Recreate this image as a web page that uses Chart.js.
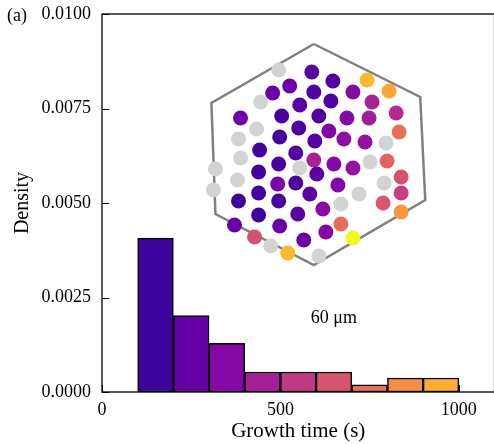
<!DOCTYPE html>
<html>
<head>
<meta charset="utf-8">
<script src="https://cdn.jsdelivr.net/npm/chart.js@4/dist/chart.umd.min.js"></script>
<style>
  html, body { margin: 0; padding: 0; background: #fff; overflow: hidden; }
  #wrap { width: 502px; height: 444px; position: relative; }
  canvas { display: block; }
</style>
</head>
<body>
<div id="wrap"><canvas id="growthChart"></canvas></div>
<script>
// histogram of growth times (bin edges in s, density)
const binLeft = [100, 200, 300, 400, 500, 600, 700, 800, 900];
const binWidth = 100;
const density = [0.00407, 0.00202, 0.00129, 0.00053, 0.00053, 0.00053, 0.00019, 0.00037, 0.00037];
const xTicks = [0, 500, 1000];
const yTicks = [0, 0.0025, 0.005, 0.0075, 0.01];

// inset: cell positions (relative to hexagon centre) and their growth time, null = did not grow
const cellX = [-38, -5, 16, 50, -27, -44, -3, 36, 72, -56, -17, 14, 55, -76, -35, 2, 30, 52, 79, -60,
  -18, 12, -78, -37, 27, 82, -2, 48, 69, -57, -21, -76, -3, -38, 17, 36, 53, 70, -101, -17,
  -58, 0, -79, -39, -21, 21, 67, 84, -103, -58, -7, 42, 84, -78, -38, 24, 66, -58, 6, -19,
  84, -82, -37, 24, -62, 9, -46, -13, 36, -29, 2];
const cellY = [85, 83, 74, 75, 69, 62, 63, 63, 64, 53, 50, 54, 53, 37, 39, 39, 37, 37, 42, 26,
  27, 24, 16, 18, 16, 23, 14, 13, 12, 5, 2, -3, -5, -9, -9, -13, -7, -6, -14, -13,
  -17, -19, -25, -29, -28, -30, -28, -22, -35, -38, -39, -39, -38, -46, -46, -49, -48, -60, -54, -59,
  -57, -70, -71, -69, -82, -77, -91, -85, -83, -98, -101];
const cellTime = [null, 175, 150, 930, 220, 220, 145, 300, 880, null, 175, 145, 410, 240, 130, 145, 300, 385, 440, null,
  145, 290, null, 130, 330, 700, 160, 345, null, 110, 160, null, 410, 130, 300, 350, null, 660, null, null,
  110, 180, null, 260, 145, 290, null, 590, null, 110, 180, null, 520, 100, 130, null, 610, 110, 310, 160,
  830, 205, 220, 690, 590, 300, null, 220, 1100, 930, null];
const hexX = [-3, 103, 108, -3, -101, -105, -3];
const hexY = [111, 58, -45, -110, -59, 52, 111];

const colorMax = 1100;
const plasma = ['#0d0887', '#41049d', '#6a00a8', '#8f0da4', '#b12a90', '#cc4778',
                '#e16462', '#f2844b', '#fca636', '#fcce25', '#f0f921'];

function plasmaColor(v) {
  v = Math.max(0, Math.min(1, v));
  const p = v * (plasma.length - 1);
  const i = Math.min(Math.floor(p), plasma.length - 2);
  const f = p - i;
  const a = plasma[i], b = plasma[i + 1];
  const c = [1, 3, 5].map(k => {
    const ca = parseInt(a.substr(k, 2), 16), cb = parseInt(b.substr(k, 2), 16);
    return Math.round(ca + (cb - ca) * f);
  });
  return 'rgb(' + c.join(',') + ')';
}

const serif = "'Liberation Serif', 'DejaVu Serif', serif";

const noPad = s => { s.paddingLeft = 0; s.paddingRight = 0; s.paddingTop = 0; s.paddingBottom = 0; };

const extras = {
  id: 'extras',
  afterDatasetsDraw(chart) {
    const {ctx, chartArea: a, scales} = chart;
    ctx.save();
    ctx.strokeStyle = '#000';
    ctx.lineWidth = 1.3;
    ctx.strokeRect(a.left, a.top, a.right - a.left, a.bottom - a.top);
    ctx.lineWidth = 1;
    ctx.beginPath();
    yTicks.forEach(v => {
      const y = Math.round(scales.y.getPixelForValue(v)) + 0.5;
      ctx.moveTo(a.left, y); ctx.lineTo(a.left + 7, y);
    });
    xTicks.forEach(v => {
      const x = Math.round(scales.x.getPixelForValue(v)) + 0.5;
      ctx.moveTo(x, a.bottom); ctx.lineTo(x, a.bottom - 7);
    });
    ctx.stroke();

    ctx.fillStyle = '#000';
    ctx.font = '18px ' + serif;
    ctx.textAlign = 'left';
    ctx.textBaseline = 'middle';
    ctx.fillText('(a)', 7, 16);

    ctx.textAlign = 'center';
    ctx.fillText('60 μm', scales.ix.getPixelForValue(17), scales.iy.getPixelForValue(-163));
    ctx.restore();
  }
};

const ctx = document.getElementById('growthChart').getContext('2d');
new Chart(ctx, {
  type: 'bar',
  data: {
    datasets: [
      {
        type: 'scatter',
        data: cellX.map((x, i) => ({x: x, y: cellY[i]})),
        xAxisID: 'ix',
        yAxisID: 'iy',
        pointRadius: 7.5,
        borderWidth: 0,
        backgroundColor: c => cellTime[c.dataIndex] == null ? '#d3d3d3' : plasmaColor(cellTime[c.dataIndex] / colorMax),
        order: 0
      },
      {
        type: 'scatter',
        data: hexX.map((x, i) => ({x: x, y: hexY[i]})),
        xAxisID: 'ix',
        yAxisID: 'iy',
        showLine: true,
        tension: 0,
        pointRadius: 0,
        borderColor: '#808080',
        borderWidth: 2.5,
        order: 1
      },
      {
        type: 'bar',
        data: binLeft.map((l, i) => ({x: l + binWidth / 2, y: density[i]})),
        xAxisID: 'x',
        yAxisID: 'y',
        backgroundColor: binLeft.map(l => plasmaColor(l / colorMax)),
        borderColor: '#000',
        borderWidth: 1.5,
        borderSkipped: false,
        grouped: false,
        barPercentage: 1,
        categoryPercentage: 1,
        order: 2
      }
    ]
  },
  options: {
    responsive: true,
    maintainAspectRatio: false,
    animation: false,
    layout: { padding: { top: 14, right: 0, left: 0, bottom: 0 } },
    plugins: { legend: { display: false }, tooltip: { enabled: false } },
    scales: {
      x: {
        type: 'linear',
        min: 0,
        max: 1100,
        offset: false,
        grid: { display: false, drawTicks: false },
        border: { display: false },
        ticks: { color: '#000', padding: 7, maxRotation: 0, autoSkip: false,
                 font: { family: serif, size: 18 },
                 callback: v => String(v) },
        afterBuildTicks: s => { s.ticks = xTicks.map(v => ({value: v})); },
        title: { display: true, text: 'Growth time (s)', color: '#000', padding: { top: 0, bottom: 0 },
                 font: { family: serif, size: 21 } },
        afterFit: s => { s.height = 52; noPad(s); }
      },
      y: {
        min: 0,
        max: 0.01,
        grid: { display: false, drawTicks: false },
        border: { display: false },
        ticks: { color: '#000', padding: 11, autoSkip: false,
                 font: { family: serif, size: 18 },
                 callback: v => v.toFixed(4) },
        afterBuildTicks: s => { s.ticks = yTicks.map(v => ({value: v})); },
        title: { display: true, text: 'Density', color: '#000', padding: { top: 11, bottom: 0 },
                 font: { family: serif, size: 20 } },
        afterFit: s => { s.width = 102; noPad(s); }
      },
      ix: { type: 'linear', axis: 'x', position: 'bottom', display: false, offset: false,
            min: -214, max: 177, afterFit: noPad },
      iy: { type: 'linear', axis: 'y', position: 'left', display: false, offset: false,
            min: -237, max: 141, afterFit: noPad }
    }
  },
  plugins: [extras]
});
</script>
</body>
</html>
